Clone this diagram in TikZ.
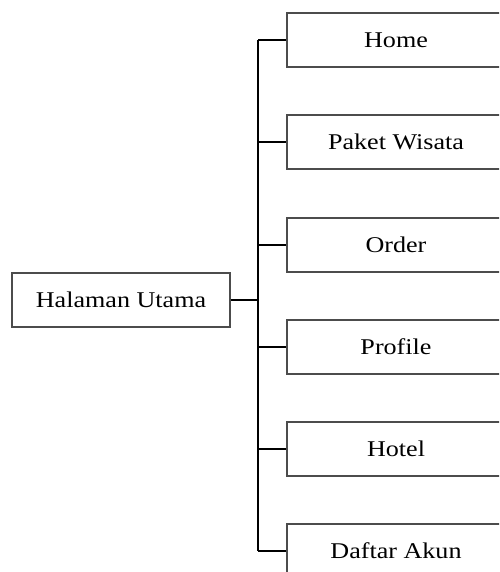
\documentclass[tikz,border=0pt]{standalone}
\usepackage{fontspec}
\setmainfont{Liberation Serif}
\newfontfamily\boxfont[FakeStretch=1.16]{Liberation Serif}
\begin{document}
\begin{tikzpicture}[x=1pt,y=-1pt,
  menubox/.style={draw=black!70, line width=1.3pt, fill=white,
    minimum width=218pt, minimum height=54pt, inner sep=0pt,
    font=\boxfont\fontsize{22.5}{26}\selectfont},
  link/.style={draw=black, line width=1.2pt}]
  \clip (0,0) rectangle (499,572);
  \fill[white] (0,0) rectangle (499,572);

  % root page
  \node[menubox] (hal) at (121,300) {Halaman Utama};
  \coordinate (j) at (258,300);

  % sub pages
  \node[menubox] (home)   at (396,40)  {Home};
  \node[menubox] (paket)  at (396,142) {Paket Wisata};
  \node[menubox] (order)  at (396,245) {Order};
  \node[menubox] (prof)   at (396,347) {Profile};
  \node[menubox] (hotel)  at (396,449) {Hotel};
  \node[menubox] (akun)   at (396,551) {Daftar Akun};

  % connectors
  \draw[link] (hal.east) -- (j);
  \draw[link] (home.west -| j) -- (akun.west -| j);
  \foreach \n in {home,paket,order,prof,hotel,akun}
    \draw[link] (\n.west -| j) -- (\n.west);
\end{tikzpicture}
\end{document}
